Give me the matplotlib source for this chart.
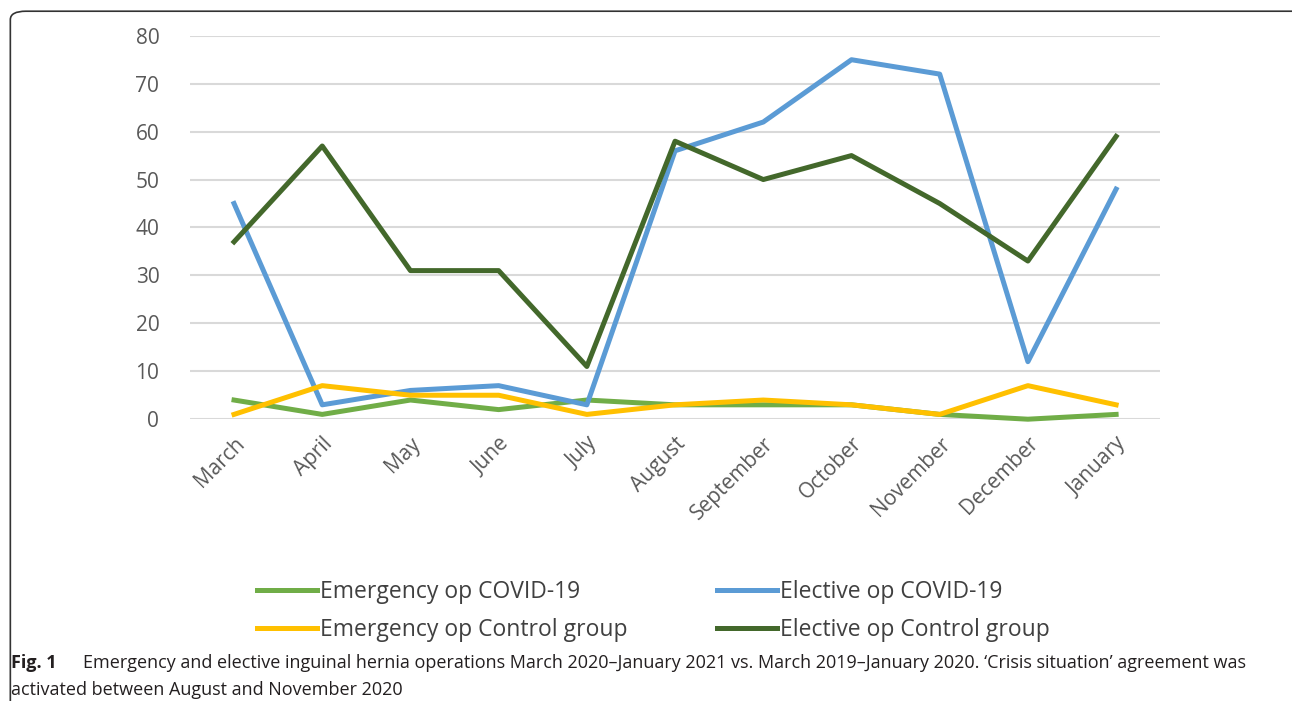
import matplotlib
matplotlib.use('Agg')
import matplotlib.pyplot as plt
from matplotlib.patches import FancyBboxPatch

plt.rcParams['font.family'] = ['Open Sans', 'DejaVu Sans']

# month labels and the four series
months = ['March', 'April', 'May', 'June', 'July', 'August', 'September',
          'October', 'November', 'December', 'January']
emerg_covid = [4, 1, 4, 2, 4, 3, 3, 3, 1, 0, 1]
elect_covid = [45, 3, 6, 7, 3, 56, 62, 75, 72, 12, 48]
emerg_ctrl = [1, 7, 5, 5, 1, 3, 4, 3, 1, 7, 3]
elect_ctrl = [37, 57, 31, 31, 11, 58, 50, 55, 45, 33, 59]

fig = plt.figure(figsize=(12.92, 7.01), dpi=100)
ax = fig.add_axes([0.147, 0.402, 0.751, 0.547])

x = range(len(months))
ax.plot(x, emerg_covid, color='#70AD47', lw=3.6, label='Emergency op COVID-19', clip_on=False, zorder=3)
ax.plot(x, elect_covid, color='#5B9BD5', lw=3.6, label='Elective op COVID-19', clip_on=False, zorder=3)
ax.plot(x, emerg_ctrl, color='#FFC000', lw=3.6, label='Emergency op Control group', clip_on=False, zorder=4)
ax.plot(x, elect_ctrl, color='#43682B', lw=3.6, label='Elective op Control group', clip_on=False, zorder=3)

ax.set_xlim(-0.5, len(months) - 0.5)
ax.set_ylim(0, 80)
ax.set_yticks(range(0, 81, 10))
ax.grid(axis='y', color='#d9d9d9', lw=1.5)
ax.set_axisbelow(True)
for s in ax.spines.values():
    s.set_visible(False)
ax.tick_params(axis='both', length=0, labelsize=15, labelcolor='#595959')
ax.tick_params(axis='y', pad=22)
ax.set_xticks(list(x))
ax.set_xticklabels(months, rotation=45, ha='right', rotation_mode='anchor')
ax.tick_params(axis='x', pad=10)

# legend in two columns below the plot
handles, labels = ax.get_legend_handles_labels()
order = [0, 2, 1, 3]
fig.legend([handles[i] for i in order], [labels[i] for i in order],
           ncol=2, frameon=False, fontsize=16.5, labelcolor='#404040',
           loc='center', bbox_to_anchor=(0.506, 0.128),
           handlelength=2.6, handletextpad=0.15, columnspacing=3.9,
           labelspacing=0.6)

# caption
cap_kw = dict(fontsize=13, color='#231f20')
fig.text(0.0085, 0.0475, 'Fig. 1', fontweight='bold', **cap_kw)
fig.text(0.064, 0.0475, 'Emergency and elective inguinal hernia operations March 2020\u2013January 2021 vs. March 2019\u2013January 2020. \u2018Crisis situation\u2019 agreement was',
         **cap_kw)
fig.text(0.0085, 0.008, 'activated between August and November 2020', **cap_kw)

# rounded frame around the figure panel
box = FancyBboxPatch((0.008, -0.2), 1.2, 1.184, boxstyle='round,pad=0,rounding_size=0.012',
                     transform=fig.transFigure, fill=False, ec='#333333', lw=1.2)
fig.patches.append(box)

fig.savefig('out.png', dpi=100)
